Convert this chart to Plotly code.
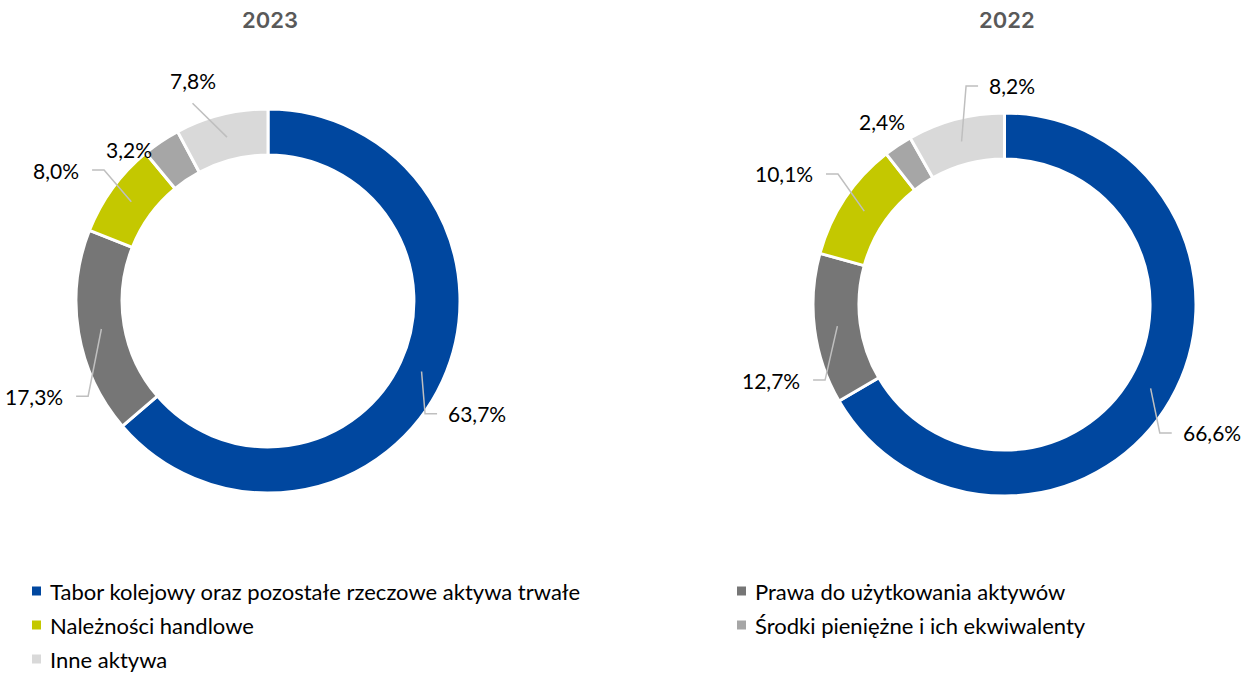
import math
import plotly.graph_objects as go

W, H = 1249, 673

# ---- data -------------------------------------------------------------
categories = [
    "Tabor kolejowy oraz pozostałe rzeczowe aktywa trwałe",
    "Prawa do użytkowania aktywów",
    "Należności handlowe",
    "Środki pieniężne i ich ekwiwalenty",
    "Inne aktywa",
]
years = ["2023", "2022"]
shares_2023 = [63.7, 17.3, 8.0, 3.2, 7.8]
shares_2022 = [66.6, 12.7, 10.1, 2.4, 8.2]

# ---- styling ----------------------------------------------------------
colors = ["#00479F", "#767676", "#C4C800", "#A6A6A6", "#D9D9D9"]
HOLE = 0.76
LABEL_FONT = dict(family="Lato, Open Sans, sans-serif", size=21, color="#000000")
LEGEND_FONT = dict(family="Lato, Open Sans, sans-serif", size=22, color="#000000")
TITLE_FONT = dict(family="Inter, Roboto, sans-serif", size=22, color="#595959", weight=600)
LEADER_COLOR = "#BFBFBF"

# ring geometry (pixels) and data-label placement around each ring:
# label_shift = angular nudge from the slice middle (deg), label_rad = distance
# from the ring centre (px), label_mode = which side of the text the leader meets
pies = [
    dict(year=years[0], values=shares_2023, cx=268, cy=301, r=192,
         label_shift=[7.7, -15.6, -1.0, -8.7, -6.1],
         label_rad=[210.8, 224.1, 228.2, 206.2, 219.2],
         label_mode=["R", "L", "L", "N", "B"]),
    dict(year=years[1], values=shares_2022, cx=1004.5, cy=304.5, r=191.5,
         label_shift=[6.2, -13.1, 0.9, 0.0, 10.2],
         label_rad=[218.1, 216.1, 230.1, 220.5, 219.2],
         label_mode=["R", "L", "L", "N", "R"]),
]


def px(x):
    return x / W


def py(y):
    return 1 - y / H


def polar(cx, cy, rad, ang_deg):
    a = math.radians(ang_deg)
    return cx + rad * math.sin(a), cy - rad * math.cos(a)


fig = go.Figure()
annotations = []
shapes = []

for p in pies:
    cx, cy, r = p["cx"], p["cy"], p["r"]
    fig.add_trace(go.Pie(
        labels=categories,
        values=p["values"],
        hole=HOLE,
        sort=False,
        direction="clockwise",
        rotation=0,
        marker=dict(colors=colors, line=dict(color="white", width=3)),
        textinfo="none",
        hovertemplate="%{label}: %{value:.1f}%<extra>" + p["year"] + "</extra>",
        showlegend=False,
        domain=dict(x=[px(cx - r), px(cx + r)], y=[py(cy + r), py(cy - r)]),
    ))

    # year heading above the ring
    annotations.append(dict(
        x=px(cx + 2), y=py(20), xref="paper", yref="paper",
        text=p["year"], showarrow=False, font=TITLE_FONT,
        xanchor="center", yanchor="middle",
    ))

    total = sum(p["values"])
    ring_mid = r * (1 + HOLE) / 2
    cum = 0.0
    for i, v in enumerate(p["values"]):
        mid = (cum + v / 2) / total * 360.0
        cum += v
        ax, ay = polar(cx, cy, p["label_rad"][i], mid + p["label_shift"][i])
        sx, sy = polar(cx, cy, ring_mid, mid)
        mode = p["label_mode"][i]
        text = f"{v:.1f}".replace(".", ",") + "%"

        if mode == "R":
            xanchor, yanchor = "left", "middle"
            pts = [(sx, sy), (ax - 21, ay), (ax - 9, ay)]
        elif mode == "L":
            xanchor, yanchor = "right", "middle"
            pts = [(sx, sy), (ax + 23, ay), (ax + 11, ay)]
        elif mode == "B":
            xanchor, yanchor = "center", "bottom"
            pts = [(sx, sy), (ax, ay + 8)]
        else:
            xanchor, yanchor = "center", "middle"
            pts = None

        annotations.append(dict(
            x=px(ax), y=py(ay), xref="paper", yref="paper",
            text=text, showarrow=False, font=LABEL_FONT,
            xanchor=xanchor, yanchor=yanchor,
        ))
        if pts:
            path = "M " + " L ".join(f"{px(x):.5f},{py(y):.5f}" for x, y in pts)
            shapes.append(dict(
                type="path", path=path, xref="paper", yref="paper",
                line=dict(color=LEADER_COLOR, width=1.5),
            ))

# ---- legend: two columns, filled row by row ----------------------------
legend_cols = [32, 737]
legend_rows = [591, 625, 659]
SQ = 9
for i, (name, col) in enumerate(zip(categories, colors)):
    x0 = legend_cols[i % 2]
    yc = legend_rows[i // 2]
    shapes.append(dict(
        type="rect", xref="paper", yref="paper",
        x0=px(x0), x1=px(x0 + SQ), y0=py(yc + SQ / 2), y1=py(yc - SQ / 2),
        fillcolor=col, line=dict(width=0),
    ))
    annotations.append(dict(
        x=px(x0 + SQ + 7), y=py(yc), xref="paper", yref="paper",
        text=name, showarrow=False, font=LEGEND_FONT,
        xanchor="left", yanchor="middle",
    ))

fig.update_layout(
    width=W, height=H,
    margin=dict(l=0, r=0, t=0, b=0),
    paper_bgcolor="white", plot_bgcolor="white",
    annotations=annotations, shapes=shapes,
    showlegend=False,
)

fig.write_html("out.html")
